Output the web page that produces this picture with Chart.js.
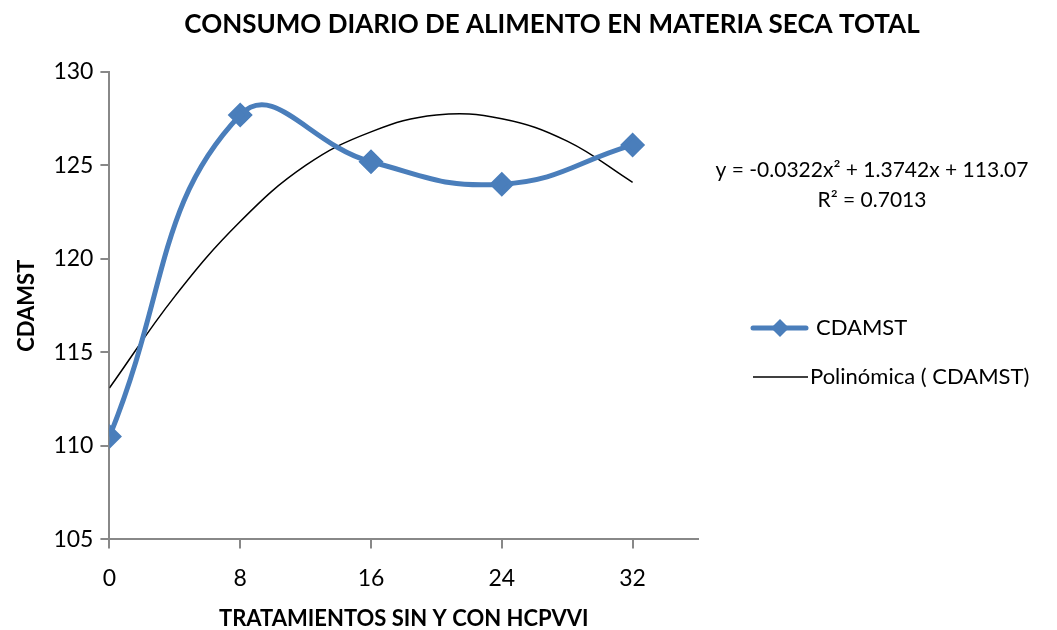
<!DOCTYPE html>
<html lang="es">
<head>
    <meta charset="UTF-8">
    <title>Consumo diario de alimento en materia seca total</title>
    <script src="https://cdn.jsdelivr.net/npm/chart.js"></script>
    <style>
        body { margin: 0; background: #fff; }
        .container { width: 1057px; height: 630px; position: relative; }
    </style>
</head>
<body>
    <div class="container">
        <canvas id="cdamstChart" width="1057" height="630"></canvas>
    </div>

    <script>
        // valores
        const tratamientos = [0, 8, 16, 24, 32];
        const cdamst = [110.5, 127.7, 125.2, 124.0, 126.1];
        // linea de tendencia polinomica
        const tendX = [0, 4, 8, 12, 16, 20, 24, 28, 32];
        const tendY = [113.1, 118.0, 122.0, 125.0, 126.8, 127.7, 127.5, 126.3, 124.1];
        const xTicks = [0, 8, 16, 24, 32];
        const yTicks = [105, 110, 115, 120, 125, 130];
        const titulo = 'CONSUMO DIARIO DE ALIMENTO EN MATERIA SECA TOTAL';
        const ecuacion = ['y = -0.0322x² + 1.3742x + 113.07', 'R² = 0.7013'];

        const FONT = 'Lato, "Open Sans", sans-serif';
        const BLUE = '#4A7EBB';

        // titulo, leyenda y ecuacion
        const extras = {
            id: 'extras',
            afterDraw(chart) {
                const ctx = chart.ctx;
                ctx.save();
                ctx.textBaseline = 'middle';
                ctx.fillStyle = '#000';

                ctx.font = 'bold 26px ' + FONT;
                ctx.textAlign = 'center';
                ctx.fillText(titulo, 552, 25);

                ctx.font = '21px ' + FONT;
                ctx.fillText(ecuacion[0], 872, 170);
                ctx.fillText(ecuacion[1], 872, 200);

                // serie
                ctx.strokeStyle = BLUE;
                ctx.lineWidth = 5;
                ctx.lineCap = 'round';
                ctx.beginPath();
                ctx.moveTo(753, 328);
                ctx.lineTo(806, 328);
                ctx.stroke();
                ctx.fillStyle = BLUE;
                ctx.beginPath();
                ctx.moveTo(780, 319);
                ctx.lineTo(789, 328);
                ctx.lineTo(780, 337);
                ctx.lineTo(771, 328);
                ctx.closePath();
                ctx.fill();

                // tendencia
                ctx.strokeStyle = '#000';
                ctx.lineWidth = 1.5;
                ctx.lineCap = 'butt';
                ctx.beginPath();
                ctx.moveTo(753, 377);
                ctx.lineTo(808, 377);
                ctx.stroke();

                ctx.fillStyle = '#000';
                ctx.textAlign = 'left';
                ctx.font = '22px ' + FONT;
                ctx.fillText('CDAMST', 816, 328);
                ctx.fillText('Polinómica ( CDAMST)', 810, 377);
                ctx.restore();
            }
        };

        const ctx = document.getElementById('cdamstChart').getContext('2d');
        const chart = new Chart(ctx, {
            type: 'line',
            data: {
                datasets: [
                    {
                        label: 'CDAMST',
                        data: tratamientos.map((x, i) => ({ x: x, y: cdamst[i] })),
                        borderColor: BLUE,
                        backgroundColor: BLUE,
                        borderWidth: 5,
                        tension: 0.45,
                        pointStyle: 'rectRot',
                        pointRadius: 9,
                        pointHoverRadius: 9,
                        order: 1
                    },
                    {
                        label: 'Polinómica ( CDAMST)',
                        data: tendX.map((x, i) => ({ x: x, y: tendY[i] })),
                        borderColor: '#000',
                        borderWidth: 1.5,
                        tension: 0.4,
                        pointRadius: 0,
                        order: 2
                    }
                ]
            },
            options: {
                responsive: false,
                animation: false,
                layout: {
                    padding: { left: 10, right: 359, top: 72, bottom: 0 }
                },
                scales: {
                    x: {
                        type: 'linear',
                        min: 0,
                        max: 36,
                        afterBuildTicks: (axis) => { axis.ticks = xTicks.map(v => ({ value: v })); },
                        border: { color: '#888', width: 2 },
                        grid: { drawOnChartArea: false, drawTicks: true, tickLength: 9, color: '#888', lineWidth: 2 },
                        ticks: { color: '#000', font: { family: FONT, size: 23 }, padding: 16 },
                        title: {
                            display: true,
                            text: 'TRATAMIENTOS SIN Y CON HCPVVI',
                            color: '#000',
                            font: { family: FONT, size: 22, weight: 'bold', lineHeight: 1 },
                            padding: { top: 0, bottom: 0 }
                        }
                    },
                    y: {
                        min: 105,
                        max: 130,
                        afterBuildTicks: (axis) => { axis.ticks = yTicks.map(v => ({ value: v })); },
                        border: { color: '#888', width: 2 },
                        grid: { drawOnChartArea: false, drawTicks: true, tickLength: 9, color: '#888', lineWidth: 2 },
                        ticks: { color: '#000', font: { family: FONT, size: 23 }, padding: 7 },
                        title: {
                            display: true,
                            text: 'CDAMST',
                            color: '#000',
                            font: { family: FONT, size: 22, weight: 'bold' },
                            padding: { bottom: 6 }
                        }
                    }
                },
                plugins: {
                    legend: { display: false },
                    tooltip: { enabled: false },
                    title: { display: false }
                }
            },
            plugins: [extras]
        });
    </script>
</body>
</html>
